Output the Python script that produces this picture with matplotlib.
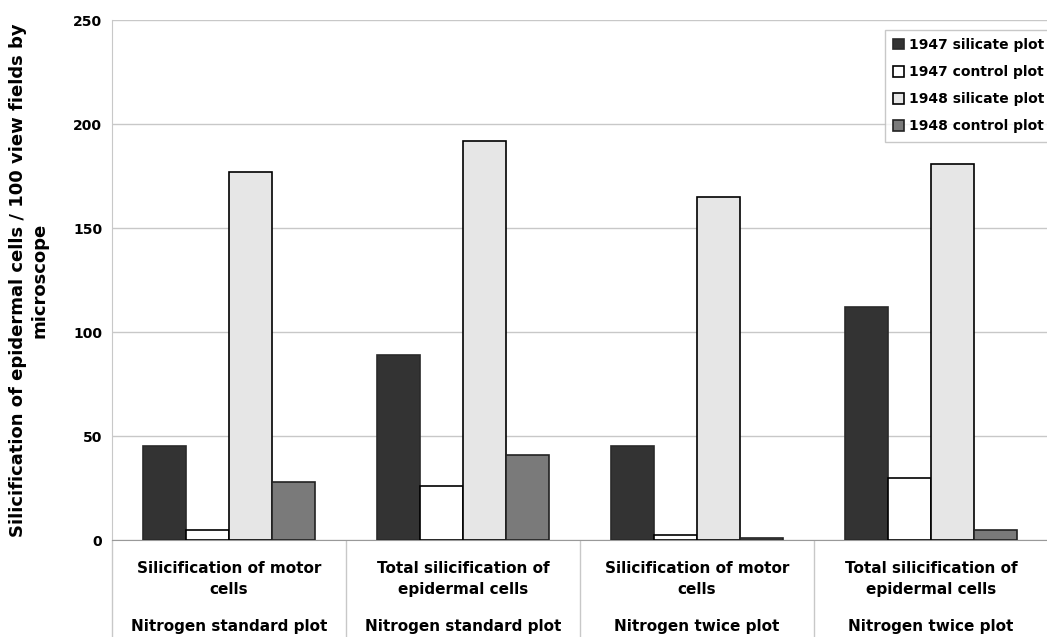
import matplotlib.pyplot as plt
import numpy as np

# datos
categorias = ["Silicification of motor\ncells",
              "Total silicification of\nepidermal cells",
              "Silicification of motor\ncells",
              "Total silicification of\nepidermal cells"]
grupos = ["Nitrogen standard plot", "Nitrogen standard plot",
          "Nitrogen twice plot", "Nitrogen twice plot"]
series = ["1947 silicate plot", "1947 control plot",
          "1948 silicate plot", "1948 control plot"]
sil_1947 = [45, 89, 45, 112]
ctrl_1947 = [5, 26, 2.5, 30]
sil_1948 = [177, 192, 165, 181]
ctrl_1948 = [28, 41, 1, 5]

valores = [sil_1947, ctrl_1947, sil_1948, ctrl_1948]
colores = ["#333333", "white", "#e6e6e6", "#7a7a7a"]
bordes = ["#2a2a2a", "black", "black", "#222222"]

fig = plt.figure(figsize=(10.47, 6.37), dpi=100)
ax = fig.add_axes([112 / 1047, 97 / 637, 936 / 1047, 520 / 637])

x = np.arange(len(categorias))
ancho = 0.184
for i, (vals, nombre) in enumerate(zip(valores, series)):
    ax.bar(x + (i - 1.5) * ancho, vals, width=ancho, color=colores[i],
           edgecolor=bordes[i], linewidth=1.2, label=nombre, zorder=3)

ax.set_xlim(-0.5, 3.5)
ax.set_ylim(0, 250)
ax.set_yticks([0, 50, 100, 150, 200, 250])
ax.grid(axis="y", color="#c8c8c8", linewidth=1, zorder=0)
for s in ["top", "right"]:
    ax.spines[s].set_visible(False)
ax.spines["left"].set_color("#c8c8c8")
ax.spines["bottom"].set_color("#999999")
ax.axhline(250, color="#c8c8c8", linewidth=1.2, zorder=1)

ax.tick_params(axis="y", length=0, pad=7, labelsize=10)
for t in ax.get_yticklabels():
    t.set_fontweight("bold")

# separadores de categorías
ax.set_xticks([])
ax.set_xticks([-0.5, 0.5, 1.5, 2.5, 3.5], minor=True)
ax.tick_params(axis="x", which="minor", length=70, color="#c8c8c8", width=1)

trans = ax.get_xaxis_transform()
for xi, cat, grp in zip(x, categorias, grupos):
    ax.text(xi, -0.04, cat, transform=trans, ha="center", va="top",
            fontsize=11, fontweight="bold", linespacing=1.55)
    ax.text(xi, -0.152, grp, transform=trans, ha="center", va="top",
            fontsize=11, fontweight="bold")

ax.set_ylabel("Silicification of epidermal cells / 100 view fields by\nmicroscope",
              fontsize=13, fontweight="bold", labelpad=18, linespacing=1.25)

leg = ax.legend(loc="upper right", bbox_to_anchor=(1.012, 0.995), fontsize=10,
                frameon=True, fancybox=False, handlelength=0.8, handleheight=0.8,
                handletextpad=0.3, labelspacing=0.95, borderpad=0.6)
leg.get_frame().set_edgecolor("#bbbbbb")
for t in leg.get_texts():
    t.set_fontweight("bold")

fig.savefig("out.png", dpi=100)
